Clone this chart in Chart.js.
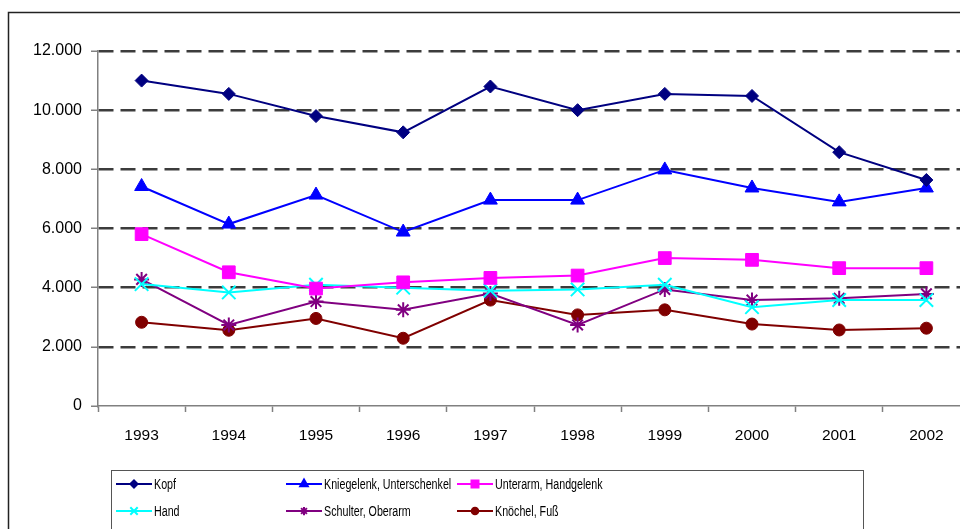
<!DOCTYPE html>
<html>
<head>
<meta charset="utf-8">
<script src="https://cdn.jsdelivr.net/npm/chart.js@4/dist/chart.umd.min.js"></script>
<style>
html,body{margin:0;padding:0;background:#fff;overflow:hidden;width:960px;height:529px;}
#wrap{width:990px;height:529px;}
</style>
</head>
<body>
<div id="wrap"><canvas id="c" width="990" height="529"></canvas></div>
<script>
const years = ['1993','1994','1995','1996','1997','1998','1999','2000','2001','2002'];
const kopf = [11000,10550,9800,9250,10800,10000,10550,10480,8580,7640];
const knie = [7420,6150,7130,5880,6960,6960,7980,7370,6900,7370];
const unterarm = [5810,4520,3970,4180,4330,4410,5000,4940,4660,4660];
const hand = [4120,3840,4100,4000,3900,3940,4100,3340,3580,3580];
const schulter = [4280,2740,3530,3250,3800,2740,3940,3580,3640,3790];
const knoechel = [2830,2560,2960,2290,3580,3080,3250,2770,2570,2630];
const yTicks = [0,2000,4000,6000,8000,10000,12000];
const labels = ['Kopf','Kniegelenk, Unterschenkel','Unterarm, Handgelenk','Hand','Schulter, Oberarm','Knöchel, Fuß'];

function fmt(v){ return String(v).replace(/\B(?=(\d{3})+(?!\d))/g,'.'); }

function ds(label, data, color, style, r){
  return {label, data, borderColor: color, backgroundColor: color, pointBackgroundColor: color,
    pointBorderColor: color, pointStyle: style, pointRadius: r, pointHoverRadius: r,
    borderWidth: 2, pointBorderWidth: (style==='crossRot'||style==='star')?2:1, tension: 0};
}

const datasets = [
  ds(labels[0], kopf, '#000080', 'rectRot', 6.5),
  ds(labels[1], knie, '#0000FF', 'triangle', 8),
  ds(labels[2], unterarm, '#FF00FF', 'rect', 9),
  ds(labels[3], hand, '#00FFFF', 'crossRot', 9.5),
  ds(labels[4], schulter, '#800080', 'star', 7.5),
  ds(labels[5], knoechel, '#800000', 'circle', 6)
];

const frame = {
  id: 'frame',
  afterDraw(chart){
    const ctx = chart.ctx;
    ctx.save();
    ctx.strokeStyle = '#222';
    ctx.lineWidth = 1.5;
    ctx.beginPath();
    ctx.moveTo(8.5, 540); ctx.lineTo(8.5, 12.5); ctx.lineTo(1000, 12.5);
    ctx.stroke();
    ctx.strokeStyle = '#555';
    ctx.lineWidth = 1;
    ctx.strokeRect(111.5, 470.5, 752, 70);
    const cols = [116, 286, 457];
    const rows = [484, 511];
    ctx.font = '15.5px "Liberation Sans", Arial, sans-serif';
    ctx.textBaseline = 'middle';
    chart.data.datasets.forEach((d, i) => {
      const x = cols[i % 3], y = rows[Math.floor(i / 3)];
      ctx.strokeStyle = d.borderColor;
      ctx.lineWidth = 2;
      ctx.beginPath(); ctx.moveTo(x, y); ctx.lineTo(x + 36, y); ctx.stroke();
      ctx.fillStyle = d.borderColor;
      Chart.helpers.drawPoint(ctx, {pointStyle: d.pointStyle, radius: d.pointRadius * 0.55, borderWidth: d.pointBorderWidth}, x + 18, y);
      ctx.fillStyle = '#000';
      ctx.save();
      ctx.translate(x + 38, y + 1);
      ctx.scale(0.69, 1);
      ctx.fillText(d.label, 0, 0);
      ctx.restore();
    });
    ctx.restore();
  }
};

new Chart(document.getElementById('c'), {
  type: 'line',
  data: { labels: years, datasets },
  options: {
    responsive: false,
    animation: false,
    devicePixelRatio: 1,
    layout: { padding: { left: 0, right: 20, top: 51, bottom: 0 } },
    plugins: { legend: { display: false }, tooltip: { enabled: false } },
    scales: {
      x: {
        offset: true,
        grid: { offset: true, drawOnChartArea: false, drawTicks: true, tickLength: 6, tickColor: '#808080', tickWidth: 1.5 },
        border: { display: true, color: '#808080', width: 1.5 },
        ticks: { color: '#000', font: { family: '"Liberation Sans", Arial, sans-serif', size: 15.5 }, padding: 14, maxRotation: 0, autoSkip: false },
        afterFit(s){ s.height = 123; }
      },
      y: {
        min: 0, max: 12000,
        afterBuildTicks(s){ s.ticks = yTicks.map(v => ({value: v})); },
        grid: {
          color: (c) => (c.tick && c.tick.value === 0) ? 'rgba(0,0,0,0)' : '#3c3c3c',
          lineWidth: 2.5, drawTicks: true, tickLength: 7, tickColor: '#808080', tickWidth: 1.5
        },
        border: { display: true, color: '#808080', width: 1.5, dash: [15, 7] },
        ticks: { color: '#000', font: { family: '"Liberation Sans", Arial, sans-serif', size: 16 }, padding: 9, callback: (v) => fmt(v) },
        afterFit(s){ s.width = 98; }
      }
    }
  },
  plugins: [frame]
});
</script>
</body>
</html>
